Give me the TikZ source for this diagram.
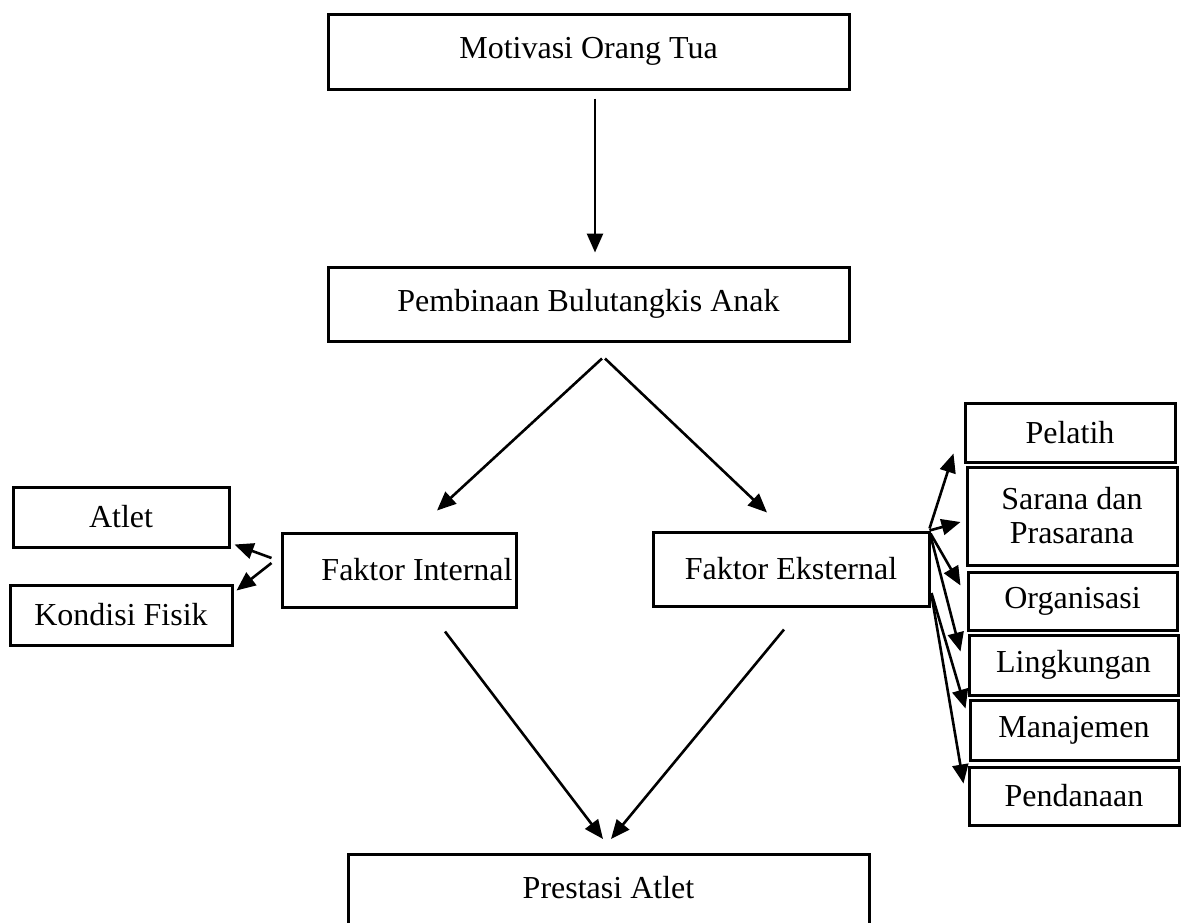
\documentclass[tikz,border=0pt]{standalone}
\usepackage{fontspec}
\setmainfont{Liberation Serif}
\usetikzlibrary{arrows.meta}

\begin{document}
\begin{tikzpicture}[x=1pt,y=-1pt,
    box/.style={draw,line width=3pt,align=center,inner sep=2pt,
      font=\fontsize{32}{34}\selectfont},
    arr/.style={line width=2.6pt,-{Triangle[length=19pt,width=16pt]}}]
  \clip (0,0) rectangle (1181,922);
  \node[box,minimum width=521pt,minimum height=75pt] (motivasi) at (588.5,51.5) {Motivasi Orang Tua};
  \node[box,minimum width=521pt,minimum height=74pt] (pembinaan) at (588.5,304) {Pembinaan Bulutangkis Anak};
  \node[box,inner xsep=0pt,minimum width=234pt,minimum height=74pt] (internal) at (399,570) {\hspace*{36pt}Faktor Internal};
  \node[box,minimum width=276pt,minimum height=74pt] (eksternal) at (791,569) {Faktor Eksternal};
  \node[box,minimum width=216pt,minimum height=60pt] (atlet) at (121,517) {Atlet};
  \node[box,minimum width=222pt,minimum height=60pt] (fisik) at (121,615) {Kondisi Fisik};
  \node[box,minimum width=210pt,minimum height=59pt] (pelatih) at (1070,432.5) {Pelatih};
  \node[box,minimum width=210pt,minimum height=98pt] (sarana) at (1072,516) {Sarana dan\\Prasarana};
  \node[box,minimum width=209pt,minimum height=58pt] (organisasi) at (1072.5,601) {Organisasi};
  \node[box,minimum width=209pt,minimum height=60pt] (lingkungan) at (1073.5,665) {Lingkungan};
  \node[box,minimum width=208pt,minimum height=60pt] (manajemen) at (1074,730) {Manajemen};
  \node[box,minimum width=210pt,minimum height=58pt] (pendanaan) at (1074,796) {Pendanaan};
  \node[box,minimum width=521pt,inner sep=0pt,text height=44pt,text depth=40pt,anchor=north] (prestasi) at (608.5,853) {Prestasi Atlet};

  \draw[arr] ([shift={(6.5,8)}]motivasi.south) -- ([shift={(6.5,-13)}]pembinaan.north);
  \draw[arr] ([shift={(13.5,16)}]pembinaan.south) -- ([shift={(38,-21)}]internal.north);
  \draw[arr] ([shift={(16.5,16)}]pembinaan.south) -- ([shift={(-24,-18)}]eksternal.north);
  \draw[arr] ([shift={(46,23)}]internal.south) -- ([shift={(-5.5,-14)}]prestasi.north);
  \draw[arr] ([shift={(-7,22)}]eksternal.south) -- ([shift={(2.5,-14)}]prestasi.north);
  \draw[arr] ([shift={(-9,-12)}]internal.west) -- ([shift={(4,-4)}]atlet.south east);
  \draw[arr] ([shift={(-9,-7)}]internal.west) -- ([shift={(3,7)}]fisik.north east);
  \draw[arr] ([shift={(-1,-2)}]eksternal.north east) -- ([shift={(-10,-10)}]pelatih.south west);
  \draw[arr] ([shift={(-1,0)}]eksternal.north east) -- ([shift={(-5,6)}]sarana.west);
  \draw[arr] ([shift={(0,3)}]eksternal.north east) -- ([shift={(-6,15)}]organisasi.north west);
  \draw[arr] ([shift={(0,5)}]eksternal.north east) -- ([shift={(-7,18)}]lingkungan.north west);
  \draw[arr] ([shift={(1,24)}]eksternal.east) -- ([shift={(-3,10)}]manajemen.north west);
  \draw[arr] ([shift={(1,26)}]eksternal.east) -- ([shift={(-4,18)}]pendanaan.north west);
\end{tikzpicture}
\end{document}
